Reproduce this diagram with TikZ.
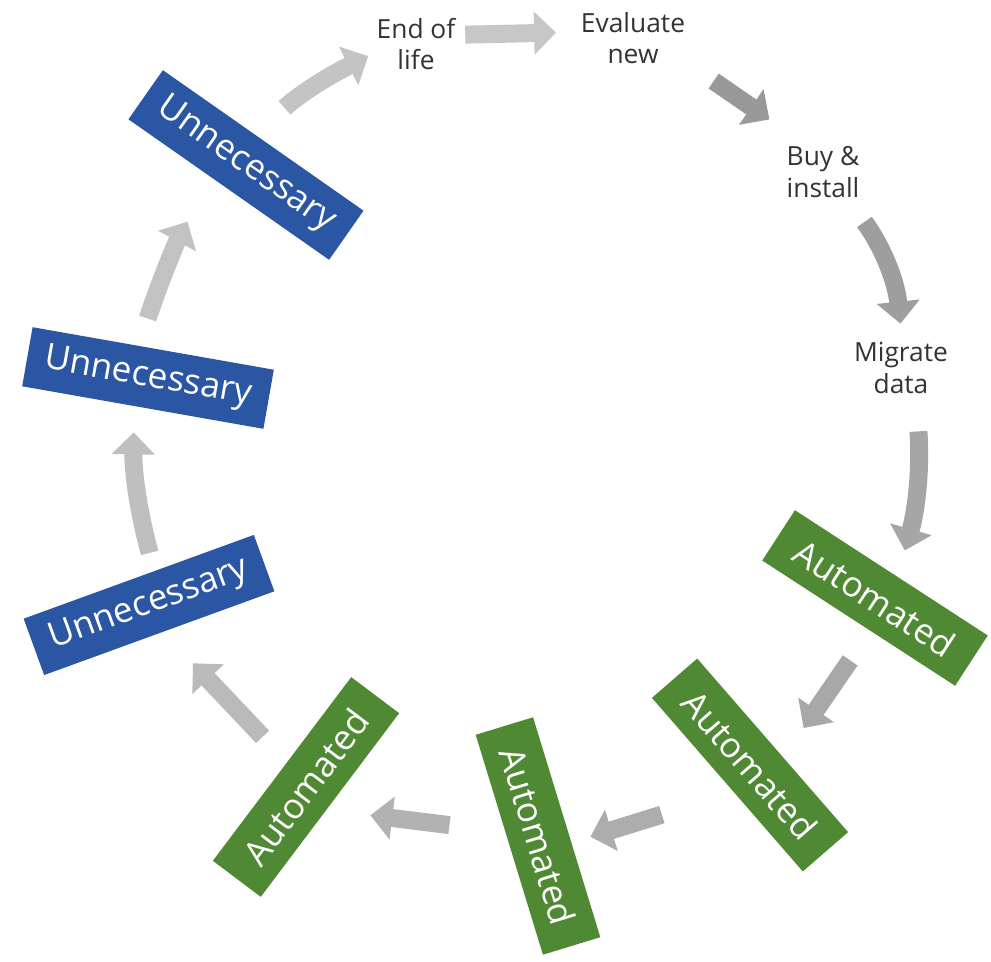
\documentclass[tikz,border=0pt]{standalone}
\usepackage{fontspec}
\setmainfont{Open Sans}
\usetikzlibrary{arrows.meta}
\definecolor{unblue}{RGB}{43,86,163}
\definecolor{augreen}{RGB}{80,137,52}

\begin{document}
\begin{tikzpicture}[x=0.02cm, y=0.02cm]
    \tikzstyle{box}=[rectangle,minimum height=1.2cm,inner sep=0pt,text=white,font=\fontsize{20}{24}\selectfont]
    \tikzstyle{unnecbox}=[box,fill=unblue,minimum width=4.9cm]
    \tikzstyle{autobox}=[box,fill=augreen,minimum width=4.6cm]
    \tikzstyle{stage}=[align=center,inner sep=2pt,text=black!80,font=\fontsize{15}{18}\selectfont]
    \tikzstyle{flow}=[line width=0.36cm,-{Triangle[width=0.84cm,length=0.44cm]}]

    \useasboundingbox (0,0) rectangle (991,-962);

    % Draw the plain steps
    \node[stage] (eol) at (416,-44) {End of\\life};
    \node[stage] (ev) at (633,-38) {Evaluate\\new};
    \node[stage] (buy) at (823,-172) {Buy \&\\install};
    \node[stage] (mig) at (901,-368) {Migrate\\data};

    % Draw the boxes
    \foreach \name / \x / \y / \ang in {a1/875/598/-33, a2/750/765/-49, a3/538/836/-73, a4/306/787/53}
        \node[autobox,rotate=\ang] (\name) at (\x,-\y) {Automated};

    \foreach \name / \x / \y / \ang in {u3/149/605/20, u2/148/378/-10, u1/246/165/-35}
        \node[unnecbox,rotate=\ang] (\name) at (\x,-\y) {Unnecessary};

    % Draw the arrows round the cycle
    \foreach \src / \sa / \dst / \da / \ss / \se / \bnd / \shade in
        {u1/108/eol/193/0.79/0.10/8/23, eol/12/ev/174/0.12/0.42/0/22,
         ev/335/buy/124/0.60/0.82/0/40, buy/312/mig/88/0.51/0.30/15/38,
         mig/297/a1/77/0.68/0.54/10/35, a1/295/a2/62/0.71/0.71/0/34,
         a2/288/a3/62/1.54/0.39/0/32, a3/246/a4/259/1.12/0.88/0/30,
         a4/75/u3/278/0.70/0.86/0/27, u3/61/u2/254/0.37/0.52/8/25,
         u2/116/u1/235/0.57/1.00/5/24}
        \draw[flow,draw=black!\shade,shorten <=\ss cm,shorten >=\se cm]
            (\src.\sa) to[bend left=\bnd] (\dst.\da);
\end{tikzpicture}
\end{document}
